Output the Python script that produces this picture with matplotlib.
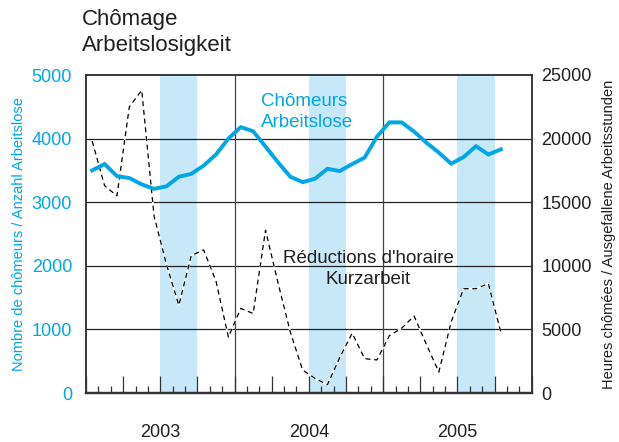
import numpy as np
import matplotlib
matplotlib.use("Agg")
import matplotlib.pyplot as plt
from matplotlib.ticker import MultipleLocator
import matplotlib.transforms as mtransforms

plt.rcParams['font.family'] = ['Liberation Sans', 'DejaVu Sans']

# donnees mensuelles, janv. 2003 - oct. 2005
chomeurs = [3500, 3600, 3410, 3380, 3280, 3210, 3250, 3400, 3445, 3575, 3750, 4000,
            4180, 4115, 3875, 3630, 3400, 3315, 3370, 3525, 3490, 3600, 3700, 4030,
            4255, 4255, 4110, 3935, 3780, 3605, 3710, 3880, 3750, 3830]
kurzarbeit = [19800, 16300, 15500, 22500, 23800, 13900, 10100, 6900, 10800, 11250, 8800, 4400,
              6650, 6250, 12800, 8700, 4800, 1800, 1150, 650, 2800, 4700, 2700, 2600,
              4500, 5100, 6050, 3800, 1650, 5600, 8200, 8200, 8600, 4800]
annees = ["2003", "2004", "2005"]
# trimestres ombres (debut, fin) en mois depuis janv. 2003
bandes = [(6, 9), (18, 21), (30, 33)]

bleu = '#00a6e6'
bleu_clair = '#c6e8f8'
texte = '#231f20'

x = np.arange(len(chomeurs)) + 0.5

fig = plt.figure(figsize=(6.19, 4.42), dpi=100)
ax = fig.add_axes([86/619, 49/442, 445.7/619, 318/442])
ax2 = ax.twinx()

# ax (gauche) devant, ax2 (droite) derriere avec fond, bandes et grille
ax.set_zorder(ax2.get_zorder() + 1)
ax.patch.set_visible(False)
ax2.patch.set_visible(True)
ax2.patch.set_facecolor('white')

for a, b in bandes:
    ax2.axvspan(a, b, color=bleu_clair, lw=0, zorder=0)
for yv in [5000, 10000, 15000, 20000]:
    ax2.axhline(yv, color='#222222', lw=0.9, zorder=1)
for xv in [12, 24]:
    ax2.axvline(xv, color='#444444', lw=0.9, zorder=1)

ax2.plot(x, kurzarbeit, color='white', lw=1.3, zorder=2)
ax2.plot(x, kurzarbeit, color='black', lw=0.9, dashes=(4, 3), zorder=3)
ax.plot(x, chomeurs, color=bleu, lw=2.8, solid_joinstyle='miter', zorder=4)

ax.set_xlim(0, 36)
ax.set_ylim(0, 5000)
ax2.set_ylim(0, 25000)
ax.set_yticks([0, 1000, 2000, 3000, 4000, 5000])
ax2.set_yticks([0, 5000, 10000, 15000, 20000, 25000])

ax.xaxis.set_major_locator(MultipleLocator(3))
ax.xaxis.set_minor_locator(MultipleLocator(1))
ax.tick_params(axis='x', which='major', direction='in', length=12, width=0.9, color='#333333',
               labelbottom=False, top=False)
ax.tick_params(axis='x', which='minor', direction='in', length=5, width=0.9, color='#333333', top=False)
ax2.tick_params(axis='x', which='both', top=False, bottom=False)
ax.tick_params(axis='y', length=0, pad=10, labelsize=13, labelcolor=bleu)
ax2.tick_params(axis='y', length=0, pad=7, labelsize=13, labelcolor=texte)

for a in (ax, ax2):
    for s in a.spines.values():
        s.set_color('#333333')
        s.set_linewidth(1.1)
    a.spines['bottom'].set_linewidth(1.6)

ax.set_ylabel("Nombre de chômeurs / Anzahl Arbeitslose", color=bleu, fontsize=10.5, labelpad=4)
ax2.set_ylabel("Heures chômées / Ausgefallene Arbeitsstunden", color=texte, fontsize=10.5, labelpad=7)

trans = mtransforms.blended_transform_factory(ax.transData, ax.transAxes)
for i, an in enumerate(annees):
    ax.text(12 * i + 6, -0.123, an, transform=trans, ha='center', va='center',
            fontsize=13, color=texte)

ax.text(14.1, 4420, "Chômeurs\nArbeitslose", color=bleu, fontsize=13.5, ha='left', va='center',
        linespacing=1.25)
ax.text(22.8, 1950, "Réductions d'horaire\nKurzarbeit", color=texte, fontsize=13.5, ha='center',
        va='center', multialignment='center', linespacing=1.25)

fig.text(82/619, 1 - 25/442, "Chômage", fontsize=16, color=texte, va='baseline')
fig.text(82/619, 1 - 51/442, "Arbeitslosigkeit", fontsize=16, color=texte, va='baseline')

fig.savefig("out.png", dpi=100)
